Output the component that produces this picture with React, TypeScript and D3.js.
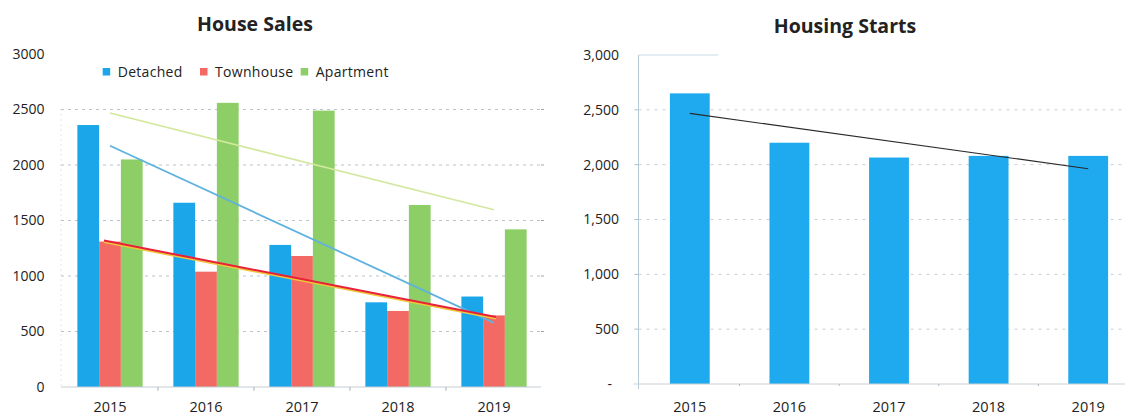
import React from "react";
import * as d3 from "d3";

const years = ["2015", "2016", "2017", "2018", "2019"];
const seriesNames = ["Detached", "Townhouse", "Apartment"];
const detached = [2360, 1660, 1280, 763, 815];
const townhouse = [1310, 1039, 1180, 685, 645];
const apartment = [2050, 2560, 2490, 1640, 1420];
const housingStarts = [2650, 2200, 2065, 2080, 2080];
const leftTicks = [0, 500, 1000, 1500, 2000, 2500, 3000];
const rightTicks = [0, 500, 1000, 1500, 2000, 2500, 3000];

const seriesColors = ["#1ca6ea", "#f26a63", "#8dce66"];
const trendColors = ["#5fb2df", "#e8203a", "#d3e89e"];

const FONT = "'Open Sans', 'Noto Sans', sans-serif";

function regression(vals: number[]) {
  const xs = vals.map((_, i) => i);
  const mx = d3.mean(xs) as number;
  const my = d3.mean(vals) as number;
  const num = d3.sum(xs, (x, i) => (x - mx) * (vals[i] - my));
  const den = d3.sum(xs, (x) => (x - mx) * (x - mx));
  const slope = num / den;
  return (i: number) => my + slope * (i - mx);
}

function LeftChart() {
  const data = [detached, townhouse, apartment];
  const x = d3.scaleBand().domain(years).range([62, 542]).padding(0);
  const bw = x.bandwidth();
  const xs = d3
    .scaleBand()
    .domain(seriesNames)
    .range([bw * 0.16, bw * 0.84])
    .padding(0);
  const y = d3.scaleLinear().domain([0, 3000]).range([387, 54]);
  const left = 61;
  const right = 541;
  const n = years.length - 1;
  const cx = (i: number) => (x(years[i]) as number) + bw / 2;
  const fx = d3.scaleLinear().domain([cx(0), cx(n)]).range([0, n]);
  const fT = regression(townhouse);
  const tx1 = cx(0) - 6;
  const tx2 = cx(n) + 2;
  return (
    <g>
      <text x={255} y={31} textAnchor="middle" fontFamily={FONT} fontWeight="bold" fontSize={19.5} fill="#222">
        House Sales
      </text>
      {leftTicks.map((t) => (
        <text key={t} x={44.5} y={y(t)} dy="0.35em" textAnchor="end" fontFamily={FONT} fontSize={14} fill="#222">
          {t}
        </text>
      ))}
      {leftTicks
        .filter((t) => t > 0 && t < 3000)
        .map((t) => (
          <g key={t}>
            <line x1={left} x2={right} y1={y(t)} y2={y(t)} stroke="#b9c3cc" strokeWidth={1} strokeDasharray="3,4" />
            <line x1={right} x2={right + 3} y1={y(t)} y2={y(t)} stroke="#9aa5ae" strokeWidth={1} />
          </g>
        ))}
      <line x1={left} x2={left} y1={y(2500)} y2={y(0)} stroke="#c5ccd2" strokeWidth={1} strokeDasharray="1,4" />
      {data.map((vals, si) =>
        vals.map((v, i) => (
          <rect
            key={`${si}-${i}`}
            x={(x(years[i]) as number) + (xs(seriesNames[si]) as number)}
            y={y(v)}
            width={xs.bandwidth()}
            height={y(0) - y(v)}
            fill={seriesColors[si]}
          />
        ))
      )}
      <line x1={left} x2={right} y1={y(0)} y2={y(0)} stroke="#c3cdd6" strokeWidth={1} />
      {years.slice(1).map((yr) => (
        <line key={yr} x1={x(yr)} x2={x(yr)} y1={y(0)} y2={y(0) + 4} stroke="#a9b3bb" strokeWidth={1} />
      ))}
      {years.map((yr) => (
        <text
          key={yr}
          x={(x(yr) as number) + bw / 2}
          y={407}
          dy="0.35em"
          textAnchor="middle"
          fontFamily={FONT}
          fontSize={14.5}
          fill="#222"
        >
          {yr}
        </text>
      ))}
      {[2, 0].map((si) => {
        const f = regression(data[si]);
        return (
          <line
            key={si}
            x1={cx(0)}
            y1={y(f(0))}
            x2={cx(n)}
            y2={y(f(n))}
            stroke={trendColors[si]}
            strokeWidth={si === 2 ? 1.6 : 1.8}
          />
        );
      })}
      <line x1={tx1} y1={y(fT(fx(tx1))) + 1.5} x2={tx2} y2={y(fT(fx(tx2))) + 1.5} stroke="#f0c63a" strokeWidth={2} />
      <line x1={tx1} y1={y(fT(fx(tx1)))} x2={tx2} y2={y(fT(fx(tx2)))} stroke={trendColors[1]} strokeWidth={2} />
      {seriesNames.map((name, i) => {
        const lx = [102.7, 200, 300.7][i];
        return (
          <g key={name}>
            <rect x={lx} y={68} width={7.5} height={7.5} fill={seriesColors[i]} />
            <text x={lx + 15} y={72} dy="0.35em" fontFamily={FONT} fontSize={14} letterSpacing={0.3} fill="#222">
              {name}
            </text>
          </g>
        );
      })}
    </g>
  );
}

function RightChart() {
  const x = d3.scaleBand().domain(years).range([640, 1138]).paddingInner(0.6).paddingOuter(0.3);
  const bw = x.bandwidth();
  const step = x.step();
  const y = d3.scaleLinear().domain([0, 3000]).range([384, 55]);
  const axisX = 638.5;
  const fmt = d3.format(",");
  const f = regression(housingStarts);
  const n = years.length - 1;
  return (
    <g>
      <text x={845} y={33} textAnchor="middle" fontFamily={FONT} fontWeight="bold" fontSize={19.5} fill="#222">
        Housing Starts
      </text>
      {rightTicks.map((t) => (
        <text
          key={t}
          x={t === 0 ? 612 : 619}
          y={y(t)}
          dy="0.35em"
          textAnchor="end"
          fontFamily={FONT}
          fontSize={14}
          fill="#222"
        >
          {t === 0 ? "-" : fmt(t)}
        </text>
      ))}
      {rightTicks
        .filter((t) => t > 0 && t < 3000)
        .map((t) => (
          <g key={t}>
            <line x1={axisX} x2={1125} y1={y(t)} y2={y(t)} stroke="#c4d0da" strokeWidth={1} strokeDasharray="3,5" />
            <line x1={axisX - 4} x2={axisX} y1={y(t)} y2={y(t)} stroke="#a8bccb" strokeWidth={1} />
          </g>
        ))}
      <line x1={axisX} x2={718} y1={y(3000)} y2={y(3000)} stroke="#c9dbe6" strokeWidth={1} />
      <line x1={axisX} x2={axisX} y1={y(3000)} y2={y(0) + 5} stroke="#b7cad8" strokeWidth={1} />
      {housingStarts.map((v, i) => (
        <rect key={i} x={x(years[i])} y={y(v)} width={bw} height={y(0) - y(v)} fill="#1fa9ee" />
      ))}
      <line x1={axisX - 5} x2={1125} y1={y(0)} y2={y(0)} stroke="#c8d0d6" strokeWidth={1} />
      {years.slice(1).map((yr) => (
        <line
          key={yr}
          x1={(x(yr) as number) + bw / 2 - step / 2}
          x2={(x(yr) as number) + bw / 2 - step / 2}
          y1={y(0)}
          y2={y(0) + 2}
          stroke="#b0b8be"
          strokeWidth={1}
        />
      ))}
      <line
        x1={(x(years[0]) as number) + bw / 2}
        y1={y(f(0))}
        x2={(x(years[n]) as number) + bw / 2}
        y2={y(f(n))}
        stroke="#2a2a2a"
        strokeWidth={1.2}
      />
      {years.map((yr) => (
        <text
          key={yr}
          x={(x(yr) as number) + bw / 2}
          y={407}
          dy="0.35em"
          textAnchor="middle"
          fontFamily={FONT}
          fontSize={14.5}
          fill="#222"
        >
          {yr}
        </text>
      ))}
    </g>
  );
}

export default function App() {
  return (
    <div style={{ position: "absolute", left: 0, top: 0 }}>
      <svg width={1125} height={415} style={{ display: "block", background: "#fff" }}>
        <rect width={1125} height={415} fill="#fff" />
        <LeftChart />
        <RightChart />
      </svg>
    </div>
  );
}
